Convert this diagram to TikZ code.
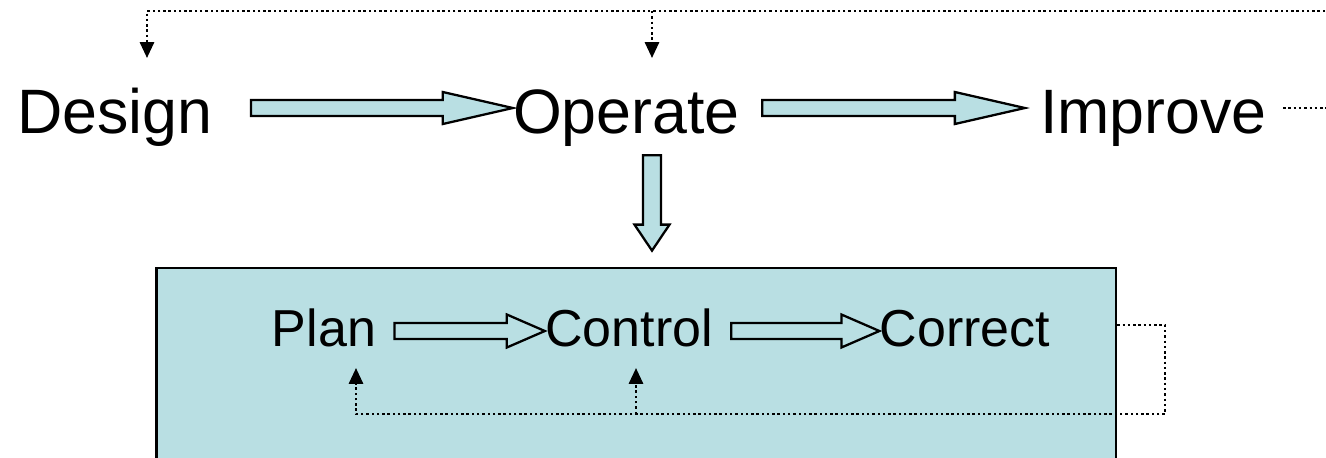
\documentclass[tikz,border=0pt]{standalone}
\usepackage{fontspec}
\setmainfont{Liberation Sans}
\usetikzlibrary{arrows.meta,calc}
\definecolor{paleblue}{RGB}{185,223,227}

% hollow block arrow: #1 from, #2 to, #3 half shaft, #4 half head, #5 head length
\newcommand\blockarrow[5]{%
  \coordinate (ba1) at (#1);
  \coordinate (ba2) at (#2);
  \coordinate (bah) at ($(ba2)!#5!(ba1)$);
  \filldraw[block arrow] ($(ba1)!#3!90:(ba2)$) -- ($(bah)!#3!90:(ba2)$)
    -- ($(bah)!#4!90:(ba2)$) -- (ba2) -- ($(bah)!#4!-90:(ba2)$)
    -- ($(bah)!#3!-90:(ba2)$) -- ($(ba1)!#3!-90:(ba2)$) -- cycle;
}

\begin{document}
\begin{tikzpicture}[x=0.02cm,y=-0.02cm,
    big/.style = {font=\fontsize{35.7pt}{40pt}\selectfont, inner sep=0pt,
                  text height=1cm, text depth=0pt, anchor=base},
    small/.style = {font=\fontsize{29.6pt}{34pt}\selectfont, inner sep=0pt,
                  text height=0.6cm, text depth=0pt, anchor=base},
    block arrow/.style = {draw=black, fill=paleblue, line width=1.3pt},
    fb/.style = {line width=1.4pt, dash pattern=on 1.4pt off 1.6pt,
                 -{Triangle[length=9pt,width=8pt]}}]

\useasboundingbox (0,0) rectangle (1326,457);
\clip (0,0) rectangle (1326,457);

% the operate box
\node[draw=black, fill=paleblue, line width=1.6pt, inner sep=0pt,
      minimum width=19.2cm, minimum height=5.04cm] (box) at (636,394) {};

\node[big] (design)  at (115,133)   {Design};
\node[big] (operate) at (626.5,133) {Operate};
\node[big] (improve) at (1153.5,133) {Improve};

\node[small] (plan)    at (324,346) {Plan};
\node[small] (control) at (629,346) {Control};
\node[small] (correct) at (965,346) {Correct};

\blockarrow{[xshift=0.76cm]design.east}{operate.west}{0.16cm}{0.32cm}{1.4cm}
\blockarrow{[xshift=0.44cm]operate.east}{[xshift=-0.3cm]improve.west}{0.16cm}{0.32cm}{1.4cm}
\blockarrow{[shift={(0.51cm,-0.44cm)}]operate.south}{[shift={(0.32cm,0.32cm)}]box.north}{0.18cm}{0.35cm}{0.52cm}
\blockarrow{[xshift=0.36cm]plan.east}{control.west}{0.16cm}{0.33cm}{0.76cm}
\blockarrow{[xshift=0.36cm]control.east}{correct.west}{0.16cm}{0.33cm}{0.76cm}

% feedback loops
\coordinate (top fork) at (652,11);
\coordinate (low fork) at (636,414);
\draw[fb] ([xshift=0.32cm]improve.east) -- ++(70,0) |- (147,11) -- (147,58);
\draw[fb] (top fork) -- (652,58);
\draw[fb] (box.east |- 0,325) -- (1165,325) |- (356,414) -- (356,368);
\draw[fb] (low fork) -- (636,368);

\end{tikzpicture}
\end{document}
